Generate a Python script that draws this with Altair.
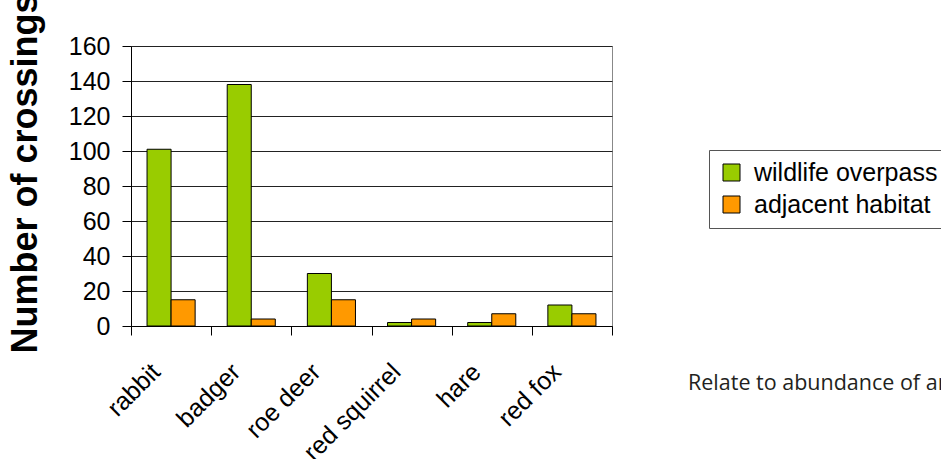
import altair as alt
import pandas as pd

# Crossings counted per species, on the overpass and in the habitat next to it
animals = ["rabbit", "badger", "roe deer", "red squirrel", "hare", "red fox"]
series = ["wildlife overpass", "adjacent habitat"]
overpass = [101, 138, 30, 2, 2, 12]
adjacent = [15, 4, 15, 4, 7, 7]
y_ticks = [0, 20, 40, 60, 80, 100, 120, 140, 160]
note = "Relate to abundance of animals"

rows = []
for a, v1, v2 in zip(animals, overpass, adjacent):
    rows.append({"animal": a, "series": series[0], "count": v1})
    rows.append({"animal": a, "series": series[1], "count": v2})
df = pd.DataFrame(rows)

FONT = "Liberation Sans"

bars = alt.Chart(df).mark_bar(stroke="black", strokeWidth=1).encode(
    x=alt.X(
        "animal:N",
        sort=animals,
        scale=alt.Scale(paddingInner=0, paddingOuter=0),
        axis=alt.Axis(
            title=None,
            tickBand="extent",
            labelAngle=-45,
            labelAlign="right",
            labelBaseline="top",
            labelFontSize=25,
            labelFont=FONT,
            labelColor="black",
            labelPadding=24,
            labelOffset=-24,
            tickSize=9,
            tickColor="black",
            domainColor="black",
            grid=False,
        ),
    ),
    xOffset=alt.XOffset(
        "series:N",
        sort=series,
        scale=alt.Scale(paddingInner=0, paddingOuter=0.667),
    ),
    y=alt.Y(
        "count:Q",
        scale=alt.Scale(domain=[0, 160], nice=False),
        axis=alt.Axis(
            title="Number of crossings",
            titleFont=FONT,
            titleFontSize=36,
            titleFontWeight="bold",
            titleColor="black",
            titleAngle=270,
            titleAlign="left",
            titleBaseline="alphabetic",
            titleX=-95,
            titleY=307,
            values=y_ticks,
            labelFontSize=25,
            labelFont=FONT,
            labelColor="black",
            labelPadding=12,
            tickSize=9,
            tickColor="black",
            domainColor="black",
            gridColor="#222222",
            gridWidth=1,
        ),
    ),
    color=alt.Color(
        "series:N",
        sort=series,
        scale=alt.Scale(domain=series, range=["#99CC00", "#FF9900"]),
        legend=alt.Legend(
            title=None,
            orient="none",
            legendX=578,
            legendY=104,
            padding=10,
            strokeColor="#555555",
            labelFont=FONT,
            labelFontSize=25,
            labelColor="black",
            labelOffset=10,
            labelLimit=0,
            symbolType="square",
            symbolSize=289,
            symbolStrokeColor="black",
            symbolStrokeWidth=1,
            symbolOpacity=1,
            rowPadding=6,
        ),
    ),
)

note_layer = alt.Chart(pd.DataFrame({"note": [note]})).mark_text(
    align="left",
    baseline="alphabetic",
    font="Open Sans",
    fontSize=21.5,
    color="#231f20",
).encode(x=alt.value(557), y=alt.value(344), text="note:N")

chart = (
    alt.layer(bars, note_layer)
    .properties(
        width=481,
        height=280,
        autosize=alt.AutoSizeParams(type="none"),
        padding={"left": 131, "top": 46, "right": 329, "bottom": 133},
    )
    .configure_view(stroke="#888888", strokeWidth=1)
)

chart.save("out.html", embed_options={"renderer": "svg", "actions": False})
